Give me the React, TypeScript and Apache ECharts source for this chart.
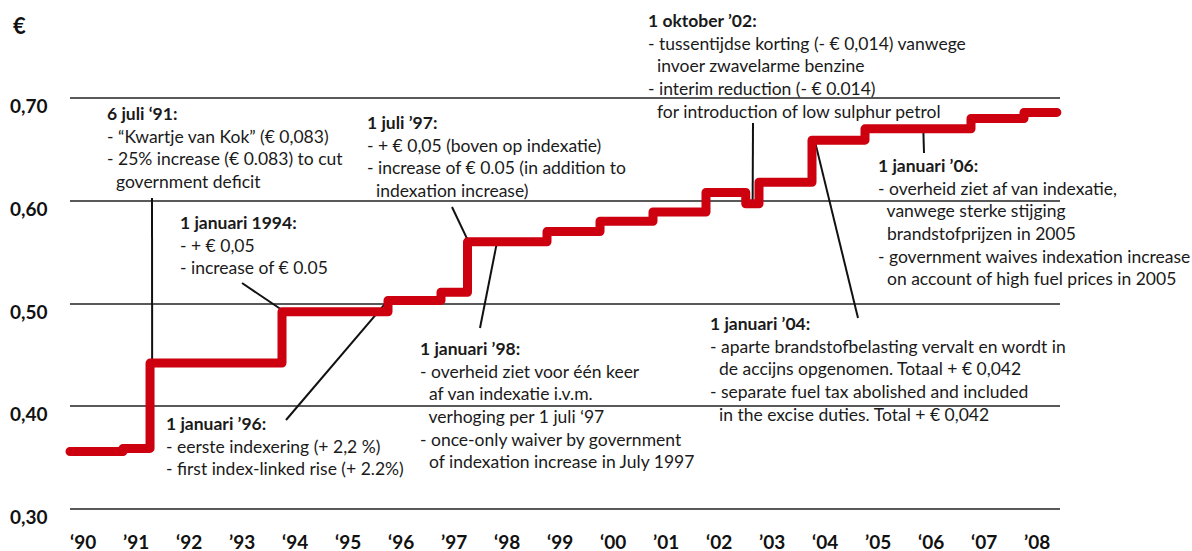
import React, { useEffect, useRef } from "react";
import * as echarts from "echarts";

// ---- data ----
const stepYears = [1990, 1991, 1991.51, 1994, 1996, 1997, 1997.5, 1999, 2000, 2001, 2002, 2002.75, 2003, 2004, 2005, 2007, 2008, 2008.62];
const exciseEuro = [0.356, 0.359, 0.442, 0.492, 0.503, 0.511, 0.56, 0.57, 0.58, 0.589, 0.608, 0.597, 0.618, 0.659, 0.67, 0.68, 0.686, 0.686];
const xTickYears = [1990, 1991, 1992, 1993, 1994, 1995, 1996, 1997, 1998, 1999, 2000, 2001, 2002, 2003, 2004, 2005, 2006, 2007, 2008];
const xTickLabels = ["‘90", "’91", "‘92", "’93", "‘94", "‘95", "‘96", "’97", "‘98", "‘99", "‘00", "’01", "‘02", "’03", "‘04", "’05", "‘06", "‘07", "’08"];
const yTickValues = [0.3, 0.4, 0.5, 0.6, 0.7];
const yTickLabels = ["0,30", "0,40", "0,50", "0,60", "0,70"];

const noteTitles = [
  "6 juli ‘91:",
  "1 januari 1994:",
  "1 januari ’96:",
  "1 juli ’97:",
  "1 januari ’98:",
  "1 oktober ’02:",
  "1 januari ’06:",
  "1 januari ’04:",
];
const noteLines = [
  ["- “Kwartje van Kok” (€ 0,083)", "- 25% increase (€ 0.083) to cut", "  government deficit"],
  ["- + € 0,05", "- increase of € 0.05"],
  ["- eerste indexering (+ 2,2 %)", "- first index-linked rise (+ 2.2%)"],
  ["- + € 0,05 (boven op indexatie)", "- increase of € 0.05 (in addition to", "  indexation increase)"],
  ["- overheid ziet voor één keer", "  af van indexatie i.v.m.", "  verhoging per 1 juli ‘97", "- once-only waiver by government", "  of indexation increase in July 1997"],
  ["- tussentijdse korting (- € 0,014) vanwege", "  invoer zwavelarme benzine", "- interim reduction (- € 0.014)", "  for introduction of low sulphur petrol"],
  ["- overheid ziet af van indexatie,", "  vanwege sterke stijging", "  brandstofprijzen in 2005", "- government waives indexation increase", "  on account of high fuel prices in 2005"],
  ["- aparte brandstofbelasting vervalt en wordt in", "  de accijns opgenomen. Totaal + € 0,042", "- separate fuel tax abolished and included", "  in the excise duties. Total + € 0,042"],
];
// anchor of each note's leader on the step line (year, value)
const noteAnchorYear = [1991.55, 1994.05, 1996.0, 1997.52, 1998.05, 2002.88, 2006.1, 2004.05];
const noteAnchorValue = [0.442, 0.492, 0.503, 0.56, 0.558, 0.598, 0.67, 0.659];

// ---- layout (pixels) ----
const noteBox = [
  [107, 102], [180, 211], [166, 412], [367, 111], [420, 337], [648, 9], [878, 154], [710, 312],
];
const leaderStart = [
  [152, 198], [242, 283], [286, 420], [452, 207], [480, 328], [753, 123], [924, 153], [858, 318],
];

const FONT = "Lato, 'Noto Sans', sans-serif";

export default function App() {
  const ref = useRef<HTMLDivElement>(null);
  useEffect(() => {
    if (!ref.current) return;
    const chart = echarts.init(ref.current, null, { renderer: "svg" });
    const option: any = {
      animation: false,
      backgroundColor: "#ffffff",
      grid: { left: 70, right: 132, top: 98, bottom: 42 },
      xAxis: {
        type: "value",
        min: 1990,
        max: 1990 + 990 / 53,
        interval: 1,
        axisLine: { show: false },
        axisTick: { show: false },
        splitLine: { show: false },
        axisLabel: {
          margin: 23,
          align: "left",
          lineHeight: 18,
          fontFamily: FONT,
          fontWeight: "bold",
          fontSize: 19,
          color: "#111",
          formatter: (v: number) => {
            const i = xTickYears.indexOf(Math.round(v * 1000) / 1000);
            return i >= 0 ? xTickLabels[i] : "";
          },
        },
      },
      yAxis: {
        type: "value",
        min: 0.3,
        max: 0.7,
        interval: 0.1,
        axisLine: { show: false },
        axisTick: { show: false },
        splitLine: { show: true, lineStyle: { color: "#222", width: 1.5 } },
        axisLabel: {
          margin: 60,
          align: "left",
          verticalAlign: "top",
          lineHeight: 15,
          fontFamily: FONT,
          fontWeight: "bold",
          fontSize: 19,
          color: "#111",
          formatter: (v: number) => {
            let best = 0;
            yTickValues.forEach((t, i) => {
              if (Math.abs(t - v) < Math.abs(yTickValues[best] - v)) best = i;
            });
            return yTickLabels[best];
          },
        },
      },
      series: [
        {
          type: "line",
          step: "end",
          data: stepYears.map((y, i) => [y, exciseEuro[i]]),
          showSymbol: false,
          clip: false,
          z: 5,
          lineStyle: { color: "#cc000f", width: 9, cap: "round", join: "round" },
        },
      ],
    };
    chart.setOption(option);

    const graphics: any[] = [
      {
        type: "text",
        x: 13,
        y: 14,
        z: 10,
        style: { text: "€", font: `bold 22px ${FONT}`, fill: "#111", verticalAlign: "top" },
      },
    ];
    noteTitles.forEach((title, i) => {
      const text = [`{b|${title}}`, ...noteLines[i]].join("\n");
      graphics.push({
        type: "text",
        x: noteBox[i][0],
        y: noteBox[i][1],
        z: 10,
        style: {
          text,
          fill: "#1a1a1a",
          fontFamily: FONT,
          fontSize: 17.5,
          lineHeight: 22.7,
          verticalAlign: "top",
          align: "left",
          rich: {
            b: { fontFamily: FONT, fontSize: 17.5, fontWeight: "bold", lineHeight: 22.7, fill: "#1a1a1a" },
          },
        },
      });
      const p = chart.convertToPixel({ gridIndex: 0 }, [noteAnchorYear[i], noteAnchorValue[i]]) as number[];
      graphics.push({
        type: "line",
        z: 1,
        shape: { x1: leaderStart[i][0], y1: leaderStart[i][1], x2: p[0], y2: p[1] },
        style: { stroke: "#111", lineWidth: 2 },
      });
    });
    chart.setOption({ graphic: { elements: graphics } });
    return () => chart.dispose();
  }, []);
  return <div ref={ref} style={{ position: "fixed", left: 0, top: 0, width: 1192, height: 551 }} />;
}
